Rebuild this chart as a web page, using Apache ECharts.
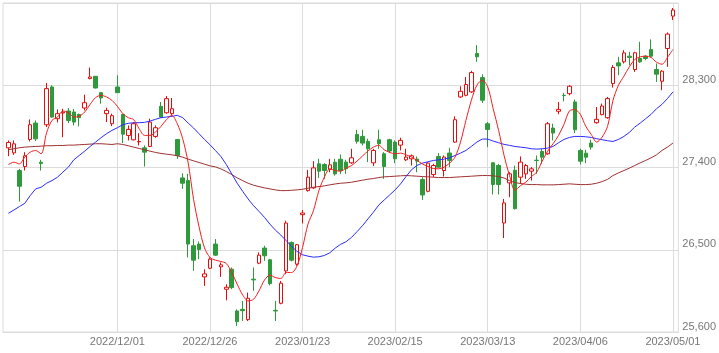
<!DOCTYPE html>
<html>
<head>
<meta charset="utf-8">
<title>candlestick</title>
<script src="https://cdn.jsdelivr.net/npm/echarts@6/dist/echarts.min.js"></script>
<style>
	html,body{margin:0;padding:0;background:#fff;}
	#main{width:719px;height:353px;}
</style>
</head>
<body>
<div id="main"></div>
<script>
// trading days
var dates = [
	'2022/11/01','2022/11/02','2022/11/04','2022/11/07','2022/11/08','2022/11/09','2022/11/10','2022/11/11','2022/11/14','2022/11/15',
	'2022/11/16','2022/11/17','2022/11/18','2022/11/21','2022/11/22','2022/11/24','2022/11/25','2022/11/28','2022/11/29','2022/11/30',
	'2022/12/01','2022/12/02','2022/12/05','2022/12/06','2022/12/07','2022/12/08','2022/12/09','2022/12/12','2022/12/13','2022/12/14',
	'2022/12/15','2022/12/16','2022/12/19','2022/12/20','2022/12/21','2022/12/22','2022/12/23','2022/12/26','2022/12/27','2022/12/28',
	'2022/12/29','2022/12/30','2023/01/04','2023/01/05','2023/01/06','2023/01/10','2023/01/11','2023/01/12','2023/01/13','2023/01/16',
	'2023/01/17','2023/01/18','2023/01/19','2023/01/20','2023/01/23','2023/01/24','2023/01/25','2023/01/26','2023/01/27','2023/01/30',
	'2023/01/31','2023/02/01','2023/02/02','2023/02/03','2023/02/06','2023/02/07','2023/02/08','2023/02/09','2023/02/10','2023/02/13',
	'2023/02/14','2023/02/15','2023/02/16','2023/02/17','2023/02/20','2023/02/21','2023/02/22','2023/02/24','2023/02/27','2023/02/28',
	'2023/03/01','2023/03/02','2023/03/03','2023/03/06','2023/03/07','2023/03/08','2023/03/09','2023/03/10','2023/03/13','2023/03/14',
	'2023/03/15','2023/03/16','2023/03/17','2023/03/20','2023/03/22','2023/03/23','2023/03/24','2023/03/27','2023/03/28','2023/03/29',
	'2023/03/30','2023/03/31','2023/04/03','2023/04/04','2023/04/05','2023/04/06','2023/04/07','2023/04/10','2023/04/11','2023/04/12',
	'2023/04/13','2023/04/14','2023/04/17','2023/04/18','2023/04/19','2023/04/20','2023/04/21','2023/04/24','2023/04/25','2023/04/26',
	'2023/04/27','2023/04/28','2023/05/01'
];

var opens = [
	27615,27560,27367,27410,27707,27886,27458,27868,28281,27934,
	27996,28018,28007,27981,28051,28373,28398,28219,27989,27879,
	28281,27981,27751,27703,27681,27615,27630,27740,28069,27999,
	27989,27707,27286,27257,26544,26562,26203,26298,26562,26313,
	26068,26287,25830,25848,25735,26178,26353,26518,26390,25837,
	25914,26269,26580,26342,26884,27147,27177,27440,27433,27381,
	27458,27490,27459,27451,27762,27740,27686,27451,27704,27550,
	27704,27678,27645,27484,27495,27492,27268,27140,27323,27521,
	27367,27558,27678,28172,28190,28227,28648,28384,27879,27451,
	27422,26793,27232,27370,27294,27330,27360,27480,27575,27550,
	27832,28015,28190,28208,28117,27587,27557,27667,27890,27978,
	27945,28318,28545,28556,28618,28472,28593,28618,28691,28472,
	28344,28702,29057
];
var closes = [
	27674,27659,27195,27528,27868,27714,27443,28263,27952,27989,
	28005,27915,27897,27945,28109,28391,28270,28161,28025,27967,
	28219,27765,27817,27879,27685,27568,27897,27835,27952,28153,
	28043,27532,27228,26562,26386,26503,26236,26397,26441,26335,
	26090,26086,25713,25833,25969,26170,26441,26434,26130,25830,
	26134,26792,26386,26555,26902,27294,27396,27360,27367,27429,
	27330,27365,27386,27506,27686,27667,27605,27587,27660,27411,
	27580,27495,27697,27514,27528,27470,27100,27448,27422,27404,
	27514,27477,27923,28234,28308,28439,28611,28136,27817,27214,
	27214,27012,27331,26950,27459,27422,27385,27476,27513,27879,
	27777,28036,28187,28289,27813,27469,27513,27623,27927,28073,
	28154,28494,28512,28654,28604,28655,28556,28593,28618,28421,
	28454,28860,29123
];
var lows = [
	27524,27538,27027,27367,27685,27689,27367,27842,27945,27893,
	27732,27886,27860,27850,28025,28365,28265,28098,27897,27853,
	28219,27667,27696,27696,27641,27410,27623,27725,27945,27989,
	27970,27495,27166,26416,26269,26397,26104,26287,26434,26203,
	25947,26068,25666,25720,25720,26050,26342,26379,26110,25720,
	25903,26233,26372,26324,26789,27136,27165,27286,27275,27348,
	27312,27330,27330,27440,27660,27642,27459,27415,27605,27276,
	27558,27448,27587,27470,27422,27349,27045,27129,27294,27396,
	27301,27404,27671,28161,28179,28216,28556,28106,27623,27104,
	27104,26628,27075,26940,27221,27276,27257,27330,27440,27539,
	27696,27982,28124,28190,27777,27433,27448,27594,27879,27971,
	27934,28274,28410,28538,28519,28446,28545,28574,28604,28337,
	28245,28501,29013
];
var highs = [
	27696,27696,27385,27568,27926,27915,27484,28325,28300,28036,
	28043,28051,28040,27990,28197,28494,28400,28226,28054,27989,
	28409,27989,27860,27897,27776,27641,27934,27860,28117,28182,
	28160,27710,27337,27330,26617,26591,26287,26416,26617,26361,
	26123,26306,25848,25940,26031,26306,26471,26544,26400,25940,
	26159,26818,26591,26562,26935,27374,27469,27495,27447,27495,
	27495,27543,27484,27605,27813,27813,27715,27605,27813,27568,
	27715,27697,27726,27605,27543,27521,27294,27459,27440,27558,
	27532,27616,27960,28289,28392,28458,28739,28421,27898,27459,
	27440,27056,27349,27420,27521,27440,27404,27532,27605,27898,
	27879,28117,28216,28300,28143,27605,27594,27704,28062,28099,
	28172,28520,28611,28684,28666,28666,28776,28629,28801,28538,
	28465,28878,29145
];

// moving averages
var ma5 = [
	27433,27458,27440,27513,27568,27586,27550,27780,27916,27952,
	28018,28000,27952,27960,28007,28091,28165,28190,28172,28135,
	28070,27989,27945,27923,27824,27751,27751,27788,27850,27923,
	27970,27879,27714,27450,27050,26750,26520,26416,26386,26372,
	26350,26251,26123,26006,25940,25958,26050,26167,26222,26196,
	26185,26251,26251,26324,26525,26781,26928,27147,27294,27385,
	27367,27360,27393,27422,27470,27525,27580,27623,27642,27594,
	27565,27550,27557,27539,27514,27477,27440,27411,27389,27386,
	27404,27448,27514,27678,27916,28136,28300,28355,28282,28044,
	27806,27532,27312,27150,27200,27240,27300,27350,27470,27579,
	27660,27751,27872,28018,28033,27982,27850,27762,27678,27733,
	27850,28135,28300,28399,28501,28582,28611,28618,28604,28552,
	28530,28604,28691
];
var ma25 = [
	26899,26935,26972,27008,27093,27166,27184,27228,27257,27294,
	27349,27404,27484,27532,27579,27630,27678,27726,27769,27806,
	27835,27868,27883,27890,27890,27894,27908,27927,27945,27952,
	27960,27971,27945,27886,27832,27769,27707,27649,27586,27521,
	27433,27330,27228,27140,27056,26983,26920,26855,26781,26716,
	26661,26599,26536,26481,26445,26430,26419,26423,26437,26467,
	26518,26560,26588,26636,26698,26763,26837,26910,26990,27045,
	27100,27155,27221,27301,27375,27422,27448,27462,27477,27484,
	27492,27506,27532,27557,27587,27631,27678,27711,27711,27689,
	27671,27653,27642,27630,27623,27616,27605,27601,27605,27612,
	27630,27671,27707,27729,27740,27740,27736,27729,27715,27704,
	27693,27685,27707,27740,27784,27843,27886,27934,27982,28044,
	28091,28154,28227
];
var ma75 = [
	27594,27605,27616,27623,27627,27630,27634,27638,27638,27641,
	27641,27645,27645,27649,27652,27656,27660,27660,27656,27652,
	27660,27652,27638,27623,27608,27594,27579,27565,27554,27546,
	27539,27528,27513,27491,27473,27455,27436,27418,27407,27385,
	27356,27323,27286,27257,27228,27206,27191,27177,27166,27155,
	27147,27147,27151,27155,27162,27173,27184,27191,27199,27210,
	27220,27228,27232,27239,27250,27261,27272,27279,27290,27298,
	27301,27305,27309,27312,27309,27305,27301,27298,27294,27290,
	27290,27290,27294,27298,27301,27305,27309,27312,27312,27309,
	27301,27285,27255,27235,27225,27217,27213,27213,27210,27210,
	27210,27213,27217,27221,27217,27213,27213,27217,27228,27246,
	27270,27312,27341,27367,27393,27422,27451,27477,27506,27539,
	27587,27623,27667
];

var xTickDates = ['2022/12/01','2022/12/26','2023/01/23','2023/02/15','2023/03/13','2023/04/06','2023/05/01'];
var yTicks = [25600, 26500, 27400, 28300, 29200];

var stock_chart = {

	init : function(id){
		var myChart = echarts.init(document.getElementById(id));
		myChart.setOption(stock_chart.options());
	},

	// one empty slot on each side so the first/last candle sit off the border
	pad : function(arr){
		return ['-'].concat(arr, ['-']);
	},

	options : function(){
		var cats = [''].concat(dates, ['']);
		var kdata = ['-'];
		for (var i = 0; i < dates.length; i++) {
			kdata.push([opens[i], closes[i], lows[i], highs[i]]);
		}
		kdata.push('-');

		var isTick = function(index, value){
			return xTickDates.indexOf(value) >= 0;
		};
		var fmt = function(v){
			return String(v).replace(/\B(?=(\d{3})+(?!\d))/g, ',');
		};

		var option = {
			animation : false,
			grid : {
				left : 3,
				right : 37,
				top : 3,
				bottom : 21,
				show : true,
				borderColor : '#dcdcdc',
				borderWidth : 1
			},
			xAxis : {
				type : 'category',
				data : cats,
				boundaryGap : false,
				axisLine : { show : true, lineStyle : { color : '#dcdcdc' } },
				axisTick : { show : false },
				axisLabel : {
					interval : isTick,
					color : '#777',
					fontSize : 11,
					fontFamily : 'Liberation Sans, Arial, sans-serif',
					margin : 4
				},
				splitLine : {
					show : true,
					interval : isTick,
					lineStyle : { color : '#dcdcdc', width : 1 }
				}
			},
			yAxis : {
				type : 'value',
				position : 'right',
				min : yTicks[0],
				max : yTicks[yTicks.length - 1],
				interval : yTicks[1] - yTicks[0],
				axisLine : { show : false },
				axisTick : { show : false },
				axisLabel : {
					showMaxLabel : false,
					color : '#777',
					fontSize : 11,
					fontFamily : 'Liberation Sans, Arial, sans-serif',
					margin : 4,
					verticalAlign : 'bottom',
					formatter : fmt
				},
				splitLine : { lineStyle : { color : '#dcdcdc', width : 1 } }
			},
			series : [
				{
					name : 'k',
					type : 'candlestick',
					data : kdata,
					barWidth : 4,
					itemStyle : {
						color : '#ffffff',
						color0 : '#2f9a3b',
						borderColor : '#e30d0d',
						borderColor0 : '#2f9a3b',
						borderWidth : 1
					}
				},
				{
					name : 'ma75',
					type : 'line',
					data : stock_chart.pad(ma75),
					symbol : 'none',
					lineStyle : { color : '#9e3030', width : 1 }
				},
				{
					name : 'ma25',
					type : 'line',
					data : stock_chart.pad(ma25),
					symbol : 'none',
					lineStyle : { color : '#2a2aff', width : 1 }
				},
				{
					name : 'ma5',
					type : 'line',
					data : stock_chart.pad(ma5),
					symbol : 'none',
					smooth : 0.3,
					lineStyle : { color : '#f41d1d', width : 1 }
				}
			]
		};
		return option;
	}
};

stock_chart.init('main');
</script>
</body>
</html>
